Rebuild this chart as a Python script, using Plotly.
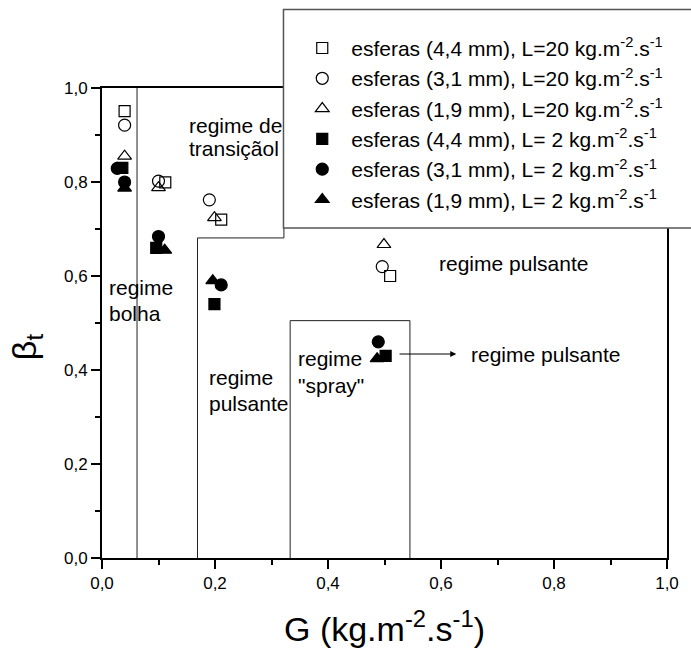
import plotly.graph_objects as go

# ---- data ----
G_44_L20 = [0.040, 0.112, 0.211, 0.510]
B_44_L20 = [0.951, 0.799, 0.720, 0.600]
G_31_L20 = [0.040, 0.100, 0.190, 0.496]
B_31_L20 = [0.921, 0.802, 0.762, 0.620]
G_19_L20 = [0.040, 0.100, 0.199, 0.499]
B_19_L20 = [0.855, 0.788, 0.724, 0.667]
G_44_L2 = [0.036, 0.096, 0.199, 0.502]
B_44_L2 = [0.830, 0.660, 0.540, 0.430]
G_31_L2 = [0.027, 0.040, 0.100, 0.211, 0.489]
B_31_L2 = [0.829, 0.800, 0.684, 0.581, 0.460]
G_19_L2 = [0.040, 0.111, 0.196, 0.487]
B_19_L2 = [0.787, 0.655, 0.590, 0.424]

sup = "kg.m<sup>-2</sup>.s<sup>-1</sup>"
names = [
    "esferas (4,4 mm), L=20 " + sup,
    "esferas (3,1 mm), L=20 " + sup,
    "esferas (1,9 mm), L=20 " + sup,
    "esferas (4,4 mm), L= 2 " + sup,
    "esferas (3,1 mm), L= 2 " + sup,
    "esferas (1,9 mm), L= 2 " + sup,
]
symbols = ["square-open", "circle-open", "triangle-up-open",
           "square", "circle", "triangle-up"]
sizes = [11, 12, 12, 11, 12, 12]
series = [(G_44_L20, B_44_L20), (G_31_L20, B_31_L20), (G_19_L20, B_19_L20),
          (G_44_L2, B_44_L2), (G_31_L2, B_31_L2), (G_19_L2, B_19_L2)]

FONT = "Arial, Liberation Sans, sans-serif"

fig = go.Figure()
for (gx, by), nm, sym, sz in zip(series, names, symbols, sizes):
    fig.add_trace(go.Scatter(
        x=gx, y=by, mode="markers", name=nm,
        marker=dict(symbol=sym, size=sz, color="black",
                    line=dict(color="black", width=1.2)),
    ))

line = dict(color="#222", width=1)
# regime boundaries
fig.add_shape(type="line", x0=0.062, x1=0.062, y0=0, y1=1.0, line=line)
fig.add_shape(type="path", path="M 0.169,0 L 0.169,0.681 L 0.322,0.681 L 0.322,0.75",
              line=line)
fig.add_shape(type="path", path="M 0.333,0 L 0.333,0.505 L 0.545,0.505 L 0.545,0",
              line=line)
# legend box
fig.add_shape(type="rect", xref="paper", yref="paper",
              x0=0.3212, x1=1.06, y0=0.702, y1=1.167,
              line=dict(color="#555", width=1.5), fillcolor="white", layer="above")

ann_font = dict(family=FONT, size=21, color="black")
texts = [
    ("regime de", 0.150, 0.921), ("transiçãol", 0.150, 0.872),
    ("regime", 0.0097, 0.575), ("bolha", 0.0097, 0.521),
    ("regime", 0.186, 0.384), ("pulsante", 0.186, 0.329),
    ("regime", 0.344, 0.425), ("\"spray\"", 0.344, 0.368),
    ("regime pulsante", 0.593, 0.627),
    ("regime pulsante", 0.649, 0.434),
]
for t, x, y in texts:
    fig.add_annotation(x=x, y=y, text=t, showarrow=False, xanchor="left",
                       yanchor="middle", font=ann_font)

# arrow
fig.add_annotation(x=0.627, y=0.434, ax=0.524, ay=0.434, axref="x", ayref="y",
                   text="", showarrow=True, arrowhead=2, arrowsize=1.2,
                   arrowwidth=1, arrowcolor="black")

# axis titles
fig.add_annotation(xref="paper", yref="paper", x=0.5, y=-0.095, yanchor="top",
                   text="G (" + sup + ")", showarrow=False,
                   font=dict(family=FONT, size=34, color="black"))
fig.add_annotation(xref="paper", yref="paper", x=-0.175, y=0.45,
                   text="β<sub>t</sub>", textangle=-90, showarrow=False,
                   font=dict(family=FONT, size=34, color="black"))

axis_common = dict(
    range=[0, 1.0], dtick=0.2, tick0=0, tickformat=".1f",
    showline=True, linecolor="black", linewidth=2, mirror=True,
    ticks="outside", ticklen=9, tickwidth=1.5, tickcolor="black",
    minor=dict(dtick=0.1, ticks="outside", ticklen=5, tickwidth=1.5, tickcolor="black"),
    showgrid=False, zeroline=False,
    tickfont=dict(family=FONT, size=17, color="black"),
)

fig.update_layout(
    width=691, height=648,
    margin=dict(l=102, r=13, t=88, b=90),
    plot_bgcolor="white", paper_bgcolor="white",
    separators=",.",
    xaxis=axis_common,
    yaxis=axis_common,
    showlegend=True,
    legend=dict(x=0.3385, y=1.128, xanchor="left", yanchor="top",
                bgcolor="rgba(0,0,0,0)", borderwidth=0,
                font=dict(family=FONT, size=21, color="black"),
                itemwidth=48, tracegroupgap=0),
)

fig.write_html("out.html")
